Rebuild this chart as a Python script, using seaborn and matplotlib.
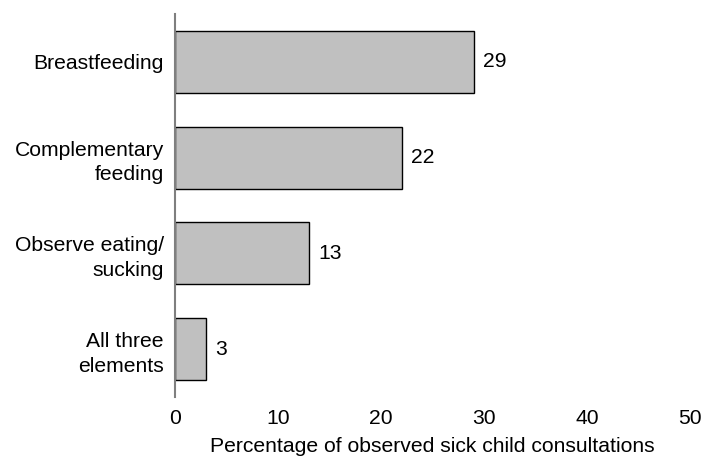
import matplotlib
matplotlib.use("Agg")
import matplotlib.pyplot as plt
import seaborn as sns
import pandas as pd

categories = ["Breastfeeding", "Complementary\nfeeding", "Observe eating/\nsucking", "All three\nelements"]
values = [29, 22, 13, 3]
x_ticks = [0, 10, 20, 30, 40, 50]

sns.set_theme(style="white")
plt.rcParams["font.family"] = ["Liberation Sans", "DejaVu Sans"]

FS = 15.2

df = pd.DataFrame({"element": categories, "pct": values})

fig = plt.figure(figsize=(7.07, 4.62), dpi=100)
ax = fig.add_axes([0.2475, 0.1407, 0.7285, 0.829])

sns.barplot(data=df, x="pct", y="element", orient="h", color="#c0c0c0",
            edgecolor="black", linewidth=1.0, width=0.65, saturation=1, ax=ax)

for patch, v in zip(ax.patches, values):
    ax.text(patch.get_width() + 0.9, patch.get_y() + patch.get_height() / 2,
            f"{v}", va="center", ha="left", fontsize=FS, color="black")

ax.set_xlim(0, 50)
ax.set_ylim(3.5, -0.5)
ax.set_xticks(x_ticks)
ax.set_xticklabels([str(t) for t in x_ticks], fontsize=FS, color="black")
ax.tick_params(axis="y", labelsize=FS, labelcolor="black", length=0, pad=8)
ax.tick_params(axis="x", length=0, pad=9)
for lbl in ax.get_yticklabels():
    lbl.set_horizontalalignment("right")
    lbl.set_multialignment("right")
    lbl.set_linespacing(1.38)
ax.set_ylabel("")
ax.set_xlabel("Percentage of observed sick child consultations", fontsize=FS,
              color="black", labelpad=6)

for side in ["top", "right", "bottom"]:
    ax.spines[side].set_visible(False)
ax.spines["left"].set_color("#7f7f7f")
ax.spines["left"].set_linewidth(1.5)

fig.savefig("out.png", dpi=100, facecolor="white")
